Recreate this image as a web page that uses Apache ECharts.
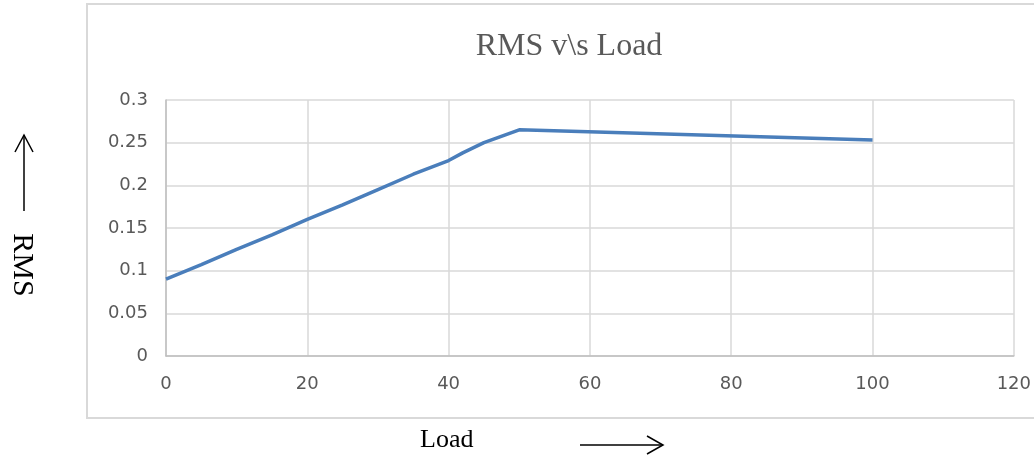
<!DOCTYPE html>
<html>
<head>
<meta charset="utf-8">
<script src="https://cdn.jsdelivr.net/npm/echarts@6/dist/echarts.min.js"></script>
<style>
html,body{margin:0;padding:0;background:#fff;}
#c{width:1034px;height:456px;}
</style>
</head>
<body>
<div id="c"></div>
<script>
var titleText = 'RMS v\\s Load';
var xAxisName = 'Load';
var yAxisName = 'RMS';
var load = [0, 5, 10, 15, 20, 25, 30, 35, 40, 42, 45, 50, 100];
var rms = [0.090, 0.107, 0.125, 0.142, 0.160, 0.177, 0.195, 0.213, 0.229, 0.238, 0.250, 0.265, 0.253];
var xTicks = [0, 20, 40, 60, 80, 100, 120];
var yTicks = [0, 0.05, 0.1, 0.15, 0.2, 0.25, 0.3];

var chart = echarts.init(document.getElementById('c'), null, {renderer: 'canvas'});
var pts = load.map(function (x, i) { return [x, rms[i]]; });

var arrowStyle = {stroke: '#000', lineWidth: 1.5, fill: null};

chart.setOption({
  animation: false,
  backgroundColor: '#fff',
  title: {
    text: titleText,
    left: 564,
    top: 26,
    textAlign: 'center',
    textStyle: {fontFamily: 'Liberation Serif', fontSize: 32, fontWeight: 'normal', color: '#595959'}
  },
  grid: {left: 166, right: 16, top: 100, bottom: 100, containLabel: false},
  xAxis: {
    type: 'value', min: 0, max: 120, interval: 20,
    axisLine: {show: true, lineStyle: {color: '#bfbfbf', width: 1.5}},
    axisTick: {show: false},
    axisLabel: {color: '#595959', fontFamily: 'DejaVu Sans', fontSize: 18, margin: 19,
      formatter: function (v) { return xTicks.indexOf(v) >= 0 ? String(v) : ''; }},
    splitLine: {show: true, lineStyle: {color: '#d9d9d9', width: 1.5}}
  },
  yAxis: {
    type: 'value', min: 0, max: 0.3, interval: 0.05,
    axisLine: {show: true, lineStyle: {color: '#bfbfbf', width: 1.5}},
    axisTick: {show: false},
    axisLabel: {color: '#595959', fontFamily: 'DejaVu Sans', fontSize: 18, margin: 18,
      formatter: function (v) {
        var r = Math.round(v * 100) / 100;
        for (var i = 0; i < yTicks.length; i++) { if (Math.abs(yTicks[i] - r) < 1e-9) return String(yTicks[i]); }
        return '';
      }},
    splitLine: {show: true, lineStyle: {color: '#d9d9d9', width: 1.5}}
  },
  series: [{
    type: 'line',
    data: pts,
    showSymbol: false,
    symbol: 'none',
    lineStyle: {color: '#4a7ebb', width: 3.5},
    itemStyle: {color: '#4a7ebb'}
  }],
  graphic: [
    {type: 'rect', z: -1, shape: {x: 87, y: 4, width: 1000, height: 414},
      style: {fill: null, stroke: '#d9d9d9', lineWidth: 2}},
    {type: 'text', x: 420, y: 440,
      style: {text: xAxisName, font: '26px "Liberation Serif"', fill: '#000', textAlign: 'left', textVerticalAlign: 'middle'}},
    {type: 'line', shape: {x1: 580, y1: 445, x2: 663, y2: 445}, style: arrowStyle},
    {type: 'polyline', shape: {points: [[647, 436], [663, 445], [647, 454]]}, style: arrowStyle},
    {type: 'text', x: 22, y: 265, rotation: -Math.PI / 2,
      style: {text: yAxisName, font: '30px "Liberation Serif"', fill: '#000', textAlign: 'center', textVerticalAlign: 'middle'}},
    {type: 'line', shape: {x1: 24, y1: 135, x2: 24, y2: 211}, style: arrowStyle},
    {type: 'polyline', shape: {points: [[15, 152], [24, 135], [33, 152]]}, style: arrowStyle}
  ]
});
</script>
</body>
</html>
